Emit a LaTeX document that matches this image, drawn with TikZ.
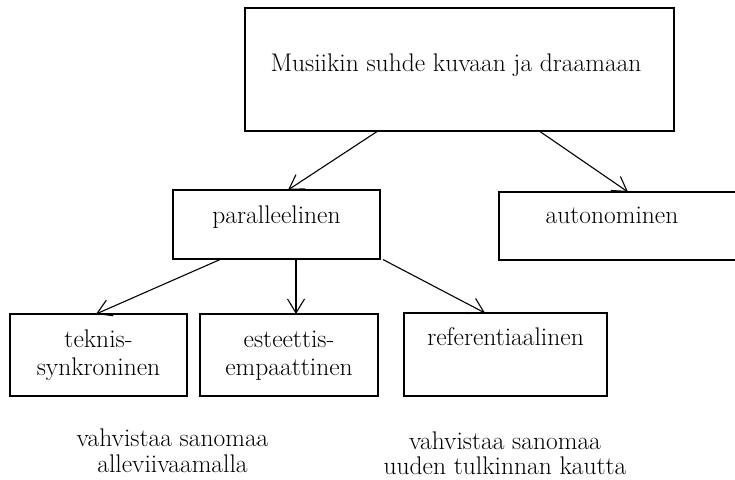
\documentclass[tikz,border=0pt]{standalone}
\usetikzlibrary{arrows.meta}
\begin{document}
\begin{tikzpicture}[x=1pt,y=-1pt,
  box/.style={draw, line width=1.1pt, inner sep=0pt},
  txt/.style={font=\fontsize{25.5}{28}\selectfont, inner sep=0pt},
  arr/.style={-{Straight Barb[length=14pt,width=17pt,line width=1.1pt]}, line width=1.1pt}]
\useasboundingbox (0,0) rectangle (735,479);
\begin{scope}
\clip (0,0) rectangle (735,479);
% boxes
\node[box, minimum width=429pt, minimum height=123pt] (top) at (459.5,69.5) {};
\node[box, minimum width=207pt, minimum height=69pt] (par) at (276.5,224.5) {};
\node[box, minimum width=240pt, minimum height=68pt] (aut) at (619,226) {};
\node[box, minimum width=177pt, minimum height=82pt] (tek) at (98.5,355) {};
\node[box, minimum width=178pt, minimum height=82pt] (est) at (289,355) {};
\node[box, minimum width=203pt, minimum height=83pt] (ref) at (505.5,354.5) {};
\end{scope}
% texts
\node[txt, anchor=base] (ttop) at (456,71) {Musiikin suhde kuvaan ja draamaan};
\node[txt, anchor=base] (tpar) at (276.5,223) {paralleelinen};
\node[txt, anchor=base] (taut) at (612,223) {autonominen};
\node[txt, anchor=base] (tref) at (505.5,345) {referentiaalinen};
\node[txt, anchor=base] (ttek1) at (98.5,347) {teknis-};
\node[txt, anchor=base] (ttek2) at (98.5,375) {synkroninen};
\node[txt, anchor=base] (test1) at (289,347) {esteettis-};
\node[txt, anchor=base] (test2) at (289,375) {empaattinen};
\node[txt, anchor=base] (b1a) at (172.5,446) {vahvistaa sanomaa};
\node[txt, anchor=base] (b1b) at (172.5,472) {alleviivaamalla};
\node[txt, anchor=base] (b2a) at (505,449) {vahvistaa sanomaa};
\node[txt, anchor=base] (b2b) at (505,474) {uuden tulkinnan kautta};
% connectors
\coordinate (t1) at (288,190);
\coordinate (t2) at (628,192);
\coordinate (p1) at (96,314);
\coordinate (p2) at (296,314);
\coordinate (p3) at (485,313);
\draw[arr] (top.south -| 377,0) -- (t1);
\draw[arr] (top.south -| 540,0) -- (t2);
\draw[arr] (par.south -| 220,0) -- (p1);
\draw[arr] (par.south -| 296,0) -- (p2);
\draw[arr] (par.south -| 383,0) -- (p3);
\end{tikzpicture}
\end{document}
